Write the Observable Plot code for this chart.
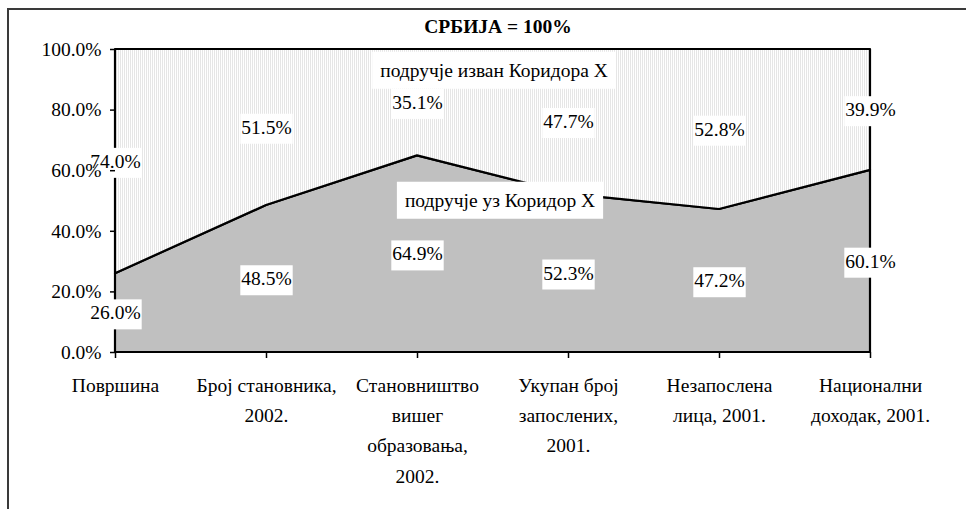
<!DOCTYPE html>
<html><head><meta charset="utf-8">
<script src="https://cdn.jsdelivr.net/npm/d3@7"></script>
<script src="https://cdn.jsdelivr.net/npm/@observablehq/plot@0.6"></script>
<style>
html,body{margin:0;padding:0;background:#fff;overflow:hidden;}
#wrap{position:relative;width:966px;height:509px;}
#border{position:absolute;left:7px;top:8px;width:990px;height:530px;border-top:2px solid #3a3a3a;border-left:2px solid #3a3a3a;pointer-events:none;}
svg text, svg tspan{font-family:"Liberation Serif", "Times New Roman", serif;}
</style></head><body>
<div id="wrap"><div id="chart"></div><div id="border"></div></div>
<script>
const categories = [
  "Површина",
  "Број становника,\n2002.",
  "Становништво\nвишег\nобразовања,\n2002.",
  "Укупан број\nзапослених,\n2001.",
  "Незапослена\nлица, 2001.",
  "Национални\nдоходак, 2001."
];
const nearCorridor = [26.0, 48.5, 64.9, 52.3, 47.2, 60.1];
const outsideCorridor = [74.0, 51.5, 35.1, 47.7, 52.8, 39.9];
const seriesNames = ["подручје уз Коридор X", "подручје изван Коридора X"];
const yTicks = [0, 20, 40, 60, 80, 100];
const titleText = "СРБИЈА = 100%";

const rows = [];
seriesNames.forEach((s, si) => {
  const vals = si === 0 ? nearCorridor : outsideCorridor;
  categories.forEach((c, i) => rows.push({category: c, series: s, value: vals[i]}));
});

const pct = d => d.toFixed(1) + "%";
const FONT = "Liberation Serif";
const FS = 19.5;

const chart = Plot.plot({
  width: 966,
  height: 509,
  marginLeft: 115,
  marginRight: 96,
  marginTop: 49,
  marginBottom: 157,
  style: "font-family: 'Liberation Serif', serif; font-size: 19.5px; color: black; background: transparent;",
  x: {type: "point", domain: categories, padding: 0, label: null},
  y: {domain: [0, 100], label: null},
  color: {domain: seriesNames, range: ["#c0c0c0", "url(#stripes)"]},
  marks: [
    Plot.areaY(rows, {x: "category", y: "value", z: "series", fill: "series", stroke: "black", strokeWidth: 2.2, order: seriesNames}),
    Plot.text(rows, Plot.stackY({x: "category", y: "value", z: "series", order: seriesNames, text: d => pct(d.value), fontSize: FS, fontFamily: FONT, fill: "black"})),
    Plot.text([seriesNames[1]], {frameAnchor: "top", text: d => d, dx: 1, dy: 21, lineAnchor: "middle", fontSize: FS, fontFamily: FONT, fill: "black"}),
    Plot.text([seriesNames[0]], {frameAnchor: "top", text: d => d, dx: 7, dy: 151, lineAnchor: "middle", fontSize: FS, fontFamily: FONT, fill: "black"}),
    Plot.axisY({ticks: yTicks, tickFormat: pct, tickSize: 5, tickPadding: 9, fontSize: FS, fontFamily: FONT, strokeWidth: 1.5, label: null}),
    Plot.axisX({tickSize: 6, tickPadding: 12, lineHeight: 1.55, fontSize: FS, fontFamily: FONT, strokeWidth: 1.5, label: null}),
    Plot.text([titleText], {frameAnchor: "top", lineAnchor: "bottom", dx: 5, dy: -17, text: d => d, fontSize: FS, fontFamily: FONT, fontWeight: "bold", fill: "black"})
  ]
});
document.getElementById("chart").appendChild(chart);

const NS = "http://www.w3.org/2000/svg";
const defs = document.createElementNS(NS, "defs");
defs.innerHTML = '<pattern id="stripes" width="2" height="2" patternUnits="userSpaceOnUse"><rect width="2" height="2" fill="#ffffff"/><rect width="1" height="2" fill="#e6e6e6"/></pattern>';
chart.insertBefore(defs, chart.firstChild);

function addBoxes(group, padL, padR, padT, padB) {
  if (!group) return;
  group.querySelectorAll("text").forEach(t => {
    const b = t.getBBox();
    const r = document.createElementNS(NS, "rect");
    r.setAttribute("x", b.x - padL);
    r.setAttribute("y", b.y - padT);
    r.setAttribute("width", b.width + padL + padR);
    r.setAttribute("height", b.height + padT + padB);
    r.setAttribute("fill", "white");
    r.setAttribute("stroke", "none");
    const tr = t.getAttribute("transform");
    if (tr) r.setAttribute("transform", tr);
    t.parentNode.insertBefore(r, t);
  });
}
// text-mark groups in mark order: value labels, two series labels, title
const textGroups = [...chart.querySelectorAll(":scope > g")].filter(g => g.getAttribute("aria-label") === "text");
addBoxes(textGroups[0], 1, 1, 3, 6);
addBoxes(textGroups[1], 8, 8, 8, 8);
addBoxes(textGroups[2], 8, 8, 8, 8);
</script>
</body></html>
